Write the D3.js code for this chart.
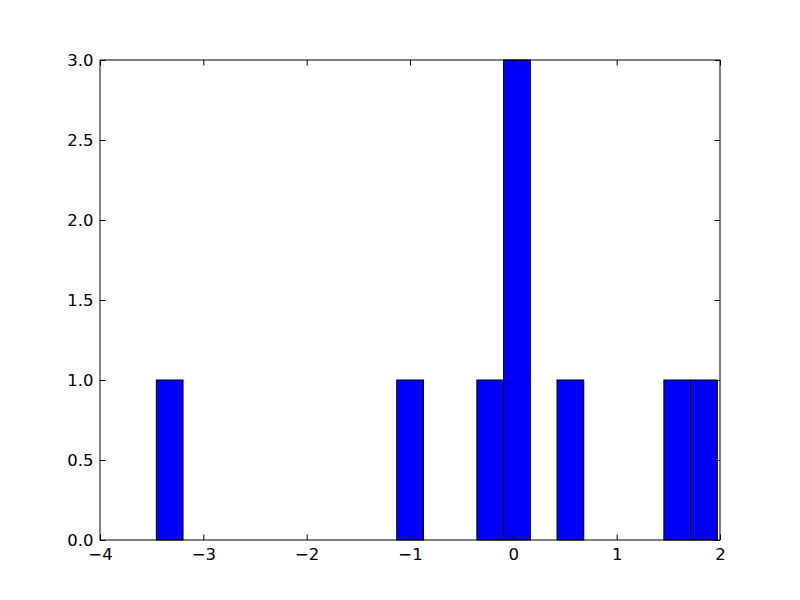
<!DOCTYPE html>
<html><head><meta charset="utf-8">
<script src="https://cdn.jsdelivr.net/npm/d3@7"></script>
<style>body{margin:0;background:#fff}svg{display:block}text{font-family:"DejaVu Sans",sans-serif}</style>
</head><body>
<script>
// Histogram data: 21 equal-width bins from binMin to binMax
const binMin = -3.455;
const binMax = 1.974;
const counts = [1,0,0,0,0,0,0,0,0,1,0,0,1,3,0,1,0,0,0,1,1];
const xTicks = [-4,-3,-2,-1,0,1,2];
const yTicks = [0,0.5,1,1.5,2,2.5,3];

const W=800,H=600, m={l:100,r:80,t:60,b:60};
const svg=d3.select("body").append("svg").attr("width",W).attr("height",H);
const x=d3.scaleLinear().domain([-4,2]).range([m.l,W-m.r]);
const y=d3.scaleLinear().domain([0,3]).range([H-m.b,m.t]);
const bw=(binMax-binMin)/counts.length;
const bins=counts.map((c,i)=>({x0:binMin+i*bw,x1:binMin+(i+1)*bw,c})).filter(d=>d.c>0);

svg.append("g").selectAll("rect").data(bins).join("rect")
  .attr("x",d=>x(d.x0)).attr("width",d=>x(d.x1)-x(d.x0))
  .attr("y",d=>y(d.c)).attr("height",d=>y(0)-y(d.c))
  .attr("fill","#0000ff").attr("stroke","#000").attr("stroke-width",1);

const tl=5.5, fs="16.5px";
const fmtX=d=>d<0?"\u2212"+Math.abs(d):String(d);
const fmtY=d3.format(".1f");
// bottom axis
const gb=svg.append("g").attr("transform",`translate(0,${y(0)})`)
  .call(d3.axisBottom(x).tickValues(xTicks).tickSize(-tl).tickPadding(8).tickFormat(fmtX));
const gt=svg.append("g").attr("transform",`translate(0,${y(3)})`)
  .call(d3.axisTop(x).tickValues(xTicks).tickSize(-tl).tickFormat(""));
const gl=svg.append("g").attr("transform",`translate(${x(-4)},0)`)
  .call(d3.axisLeft(y).tickValues(yTicks).tickSize(-tl).tickPadding(6.5).tickFormat(fmtY));
const gr=svg.append("g").attr("transform",`translate(${x(2)},0)`)
  .call(d3.axisRight(y).tickValues(yTicks).tickSize(-tl).tickFormat(""));
[gb,gt,gl,gr].forEach(g=>{
  g.select(".domain").remove();
  g.selectAll("line").attr("stroke","#000");
  g.selectAll("text").attr("fill","#000").style("font-size",fs).style("font-family","DejaVu Sans");
});
svg.append("rect").attr("x",x(-4)).attr("y",y(3)).attr("width",x(2)-x(-4)).attr("height",y(0)-y(3))
  .attr("fill","none").attr("stroke","#000").attr("stroke-width",1);
</script>
</body></html>
